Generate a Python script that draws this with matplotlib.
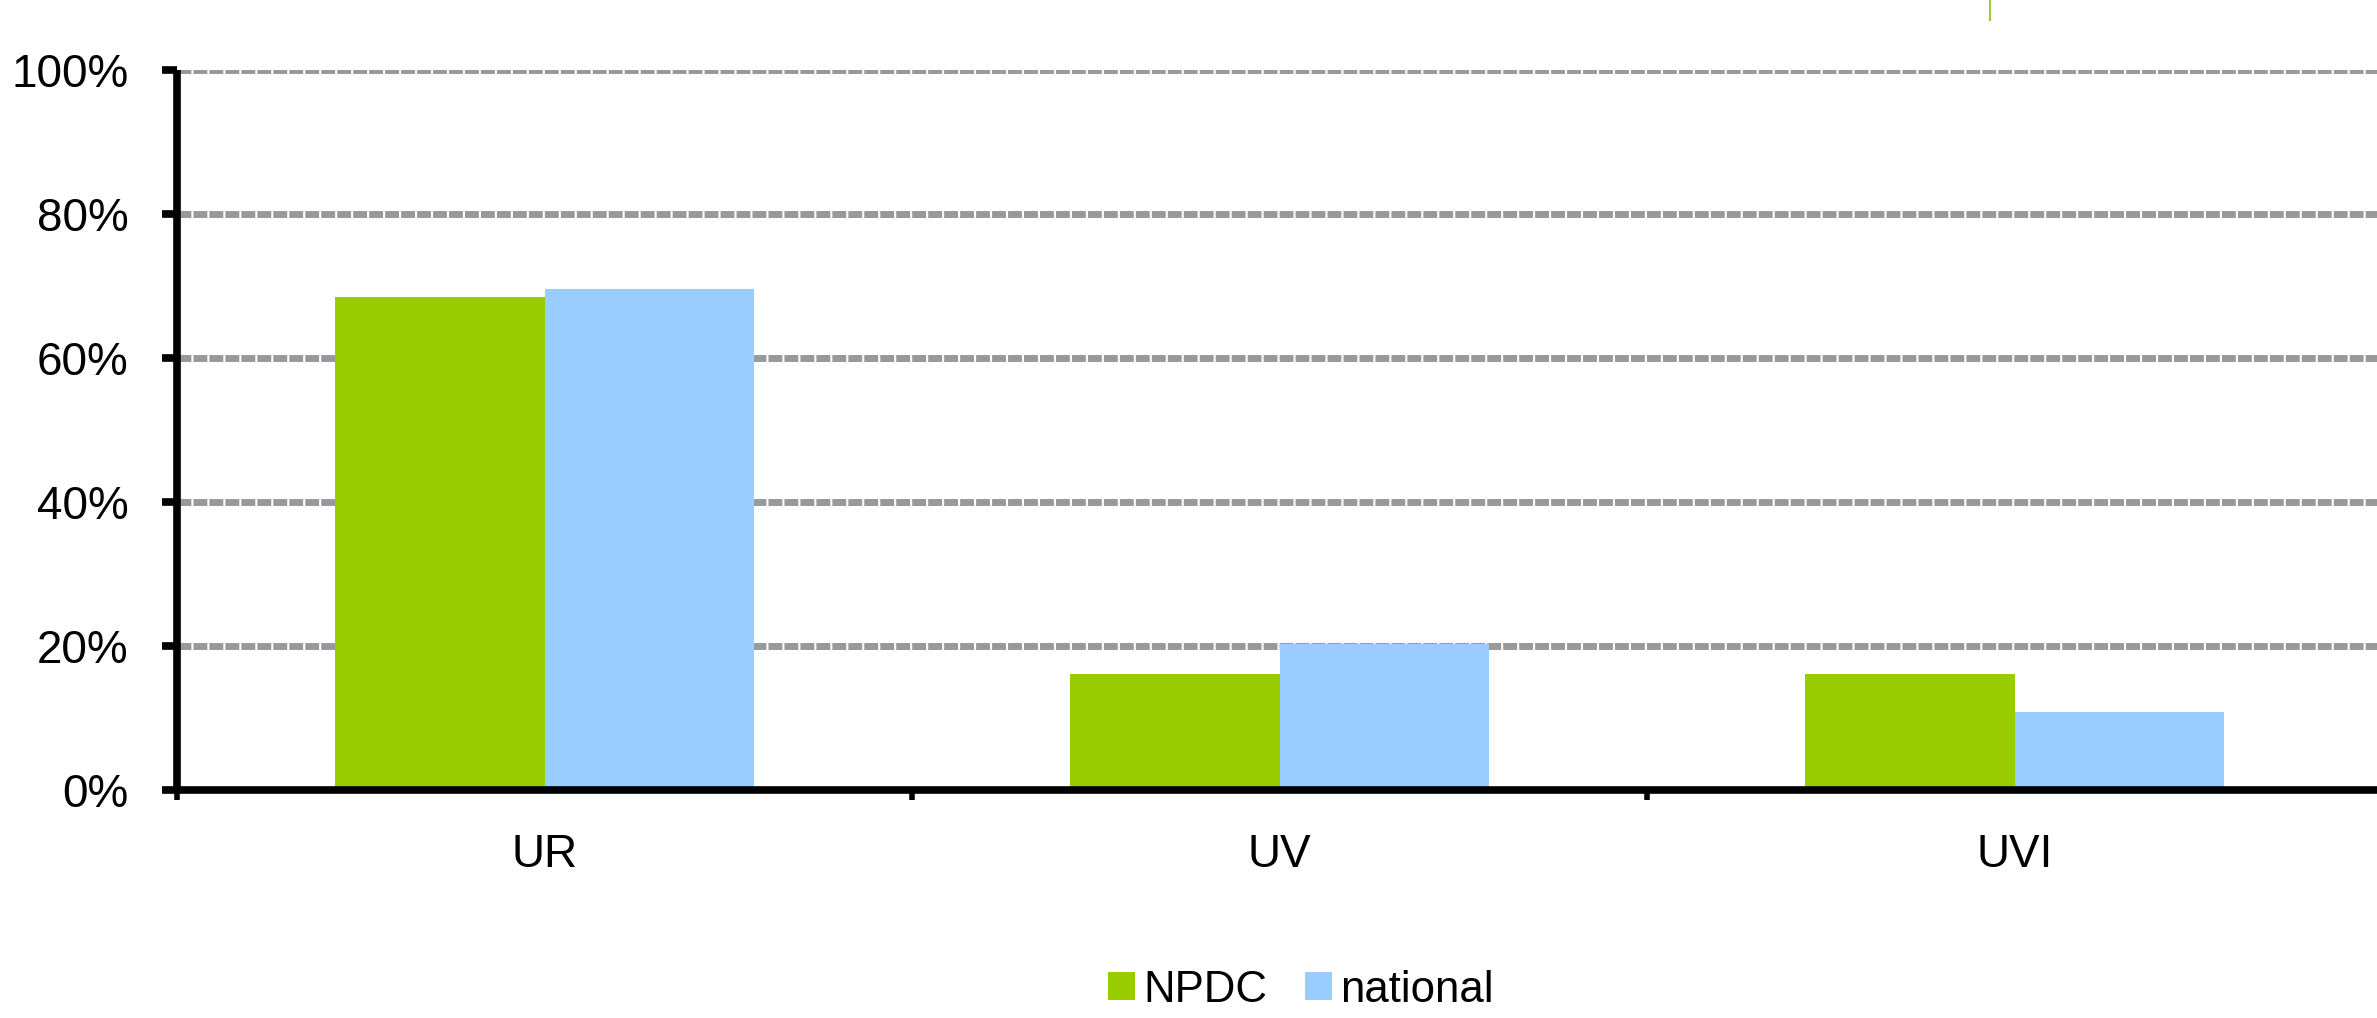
import matplotlib.pyplot as plt
import numpy as np
from matplotlib.lines import Line2D
from matplotlib.patches import Patch
from matplotlib.ticker import FixedLocator, PercentFormatter

plt.rcParams['font.family'] = ['Liberation Sans', 'DejaVu Sans']

categories = ['UR', 'UV', 'UVI']
npdc = [0.685, 0.161, 0.161]
national = [0.696, 0.203, 0.108]

green = '#99CC00'
blue = '#99CCFF'

fig = plt.figure(figsize=(23.77, 10.18), dpi=100)
ax = fig.add_axes([177 / 2377, 228 / 1018, 2205 / 2377, 720 / 1018])

x = np.arange(len(categories))
w = 0.2857
ax.bar(x - w / 2, npdc, w, color=green, zorder=2)
ax.bar(x + w / 2, national, w, color=blue, zorder=2)

ax.set_xlim(-0.5, 2.5)
ax.set_ylim(0, 1)

# category labels sit between the boundary ticks
ax.xaxis.set_major_locator(FixedLocator([-0.5, 0.5, 1.5, 2.5]))
ax.xaxis.set_major_formatter(plt.NullFormatter())
ax.set_xticks(x, categories, minor=True)
ax.tick_params(axis='x', which='minor', length=0, pad=31, labelsize=33)
ax.tick_params(axis='x', which='major', length=7, width=4, direction='out')

ax.yaxis.set_major_locator(FixedLocator(np.linspace(0, 1, 6)))
ax.yaxis.set_major_formatter(PercentFormatter(1.0, decimals=0))
ax.tick_params(axis='y', length=11, width=5.5, direction='out', pad=24, labelsize=33)

for s in ('top', 'right'):
    ax.spines[s].set_visible(False)
for s in ('left', 'bottom'):
    ax.spines[s].set_linewidth(5.5)
    ax.spines[s].set_capstyle('butt')

ax.set_axisbelow(True)
ax.yaxis.grid(True, color='#999999', linewidth=5, linestyle=(0, (2.0, 0.3)))
ax.get_ygridlines()[0].set_visible(False)

handles = [Patch(facecolor=green, label='NPDC'), Patch(facecolor=blue, label='national')]
fig.legend(handles=handles, loc='center', bbox_to_anchor=(1301 / 2377, 1 - 990 / 1018),
           ncol=2, frameon=False, fontsize=31.5, handlelength=0.62, handleheight=0.62,
           handletextpad=0.18, columnspacing=0.87, borderpad=0)

# small green stroke at the top edge
fig.add_artist(Line2D([1990 / 2377, 1990 / 2377], [1.0, 1 - 20 / 1018], color='#99CC33', linewidth=1.5))

fig.savefig('out.png', dpi=100, facecolor='white')
